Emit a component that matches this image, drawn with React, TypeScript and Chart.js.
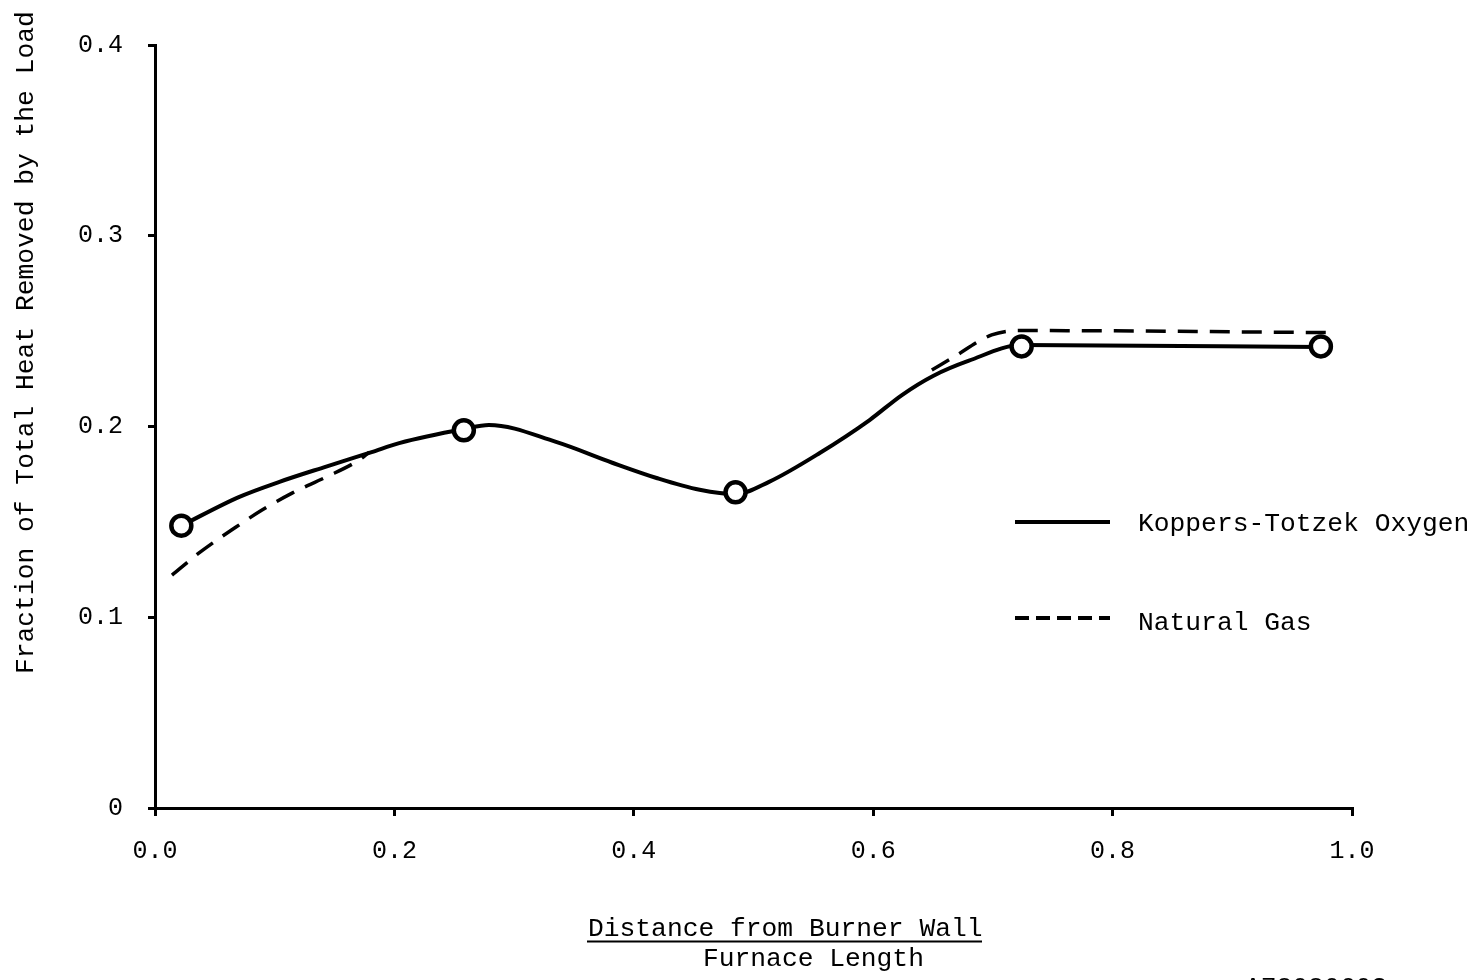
import React, { useEffect, useRef } from "react";
import { Chart, registerables } from "chart.js";

Chart.register(...registerables);

// ---- Data ----
const koppersX = [0.022, 0.07, 0.104, 0.143, 0.181, 0.204, 0.258, 0.279, 0.335, 0.382, 0.419, 0.455, 0.485, 0.513, 0.555, 0.597, 0.624, 0.65, 0.68, 0.724, 0.974];
const koppersY = [0.148, 0.163, 0.171, 0.179, 0.1866, 0.1913, 0.1987, 0.2008, 0.1919, 0.181, 0.173, 0.1668, 0.1645, 0.171, 0.186, 0.2034, 0.2165, 0.2265, 0.2345, 0.2427, 0.2417];

const naturalGasX = [0.0142, 0.0368, 0.0677, 0.0894, 0.1145, 0.143, 0.1704, 0.179, 0.4, 0.649, 0.666, 0.699, 0.722, 0.987];
const naturalGasY: (number | null)[] = [0.1221, 0.1337, 0.1473, 0.1562, 0.1651, 0.1735, 0.1824, 0.1866, null, 0.2296, 0.2359, 0.248, 0.2503, 0.2492];

const measuredX = [0.022, 0.258, 0.485, 0.724, 0.974];
const measuredY = [0.148, 0.198, 0.1655, 0.242, 0.242];

const xTickLabels = ["0.0", "0.2", "0.4", "0.6", "0.8", "1.0"];
const yTickLabels = ["0", "0.1", "0.2", "0.3", "0.4"];

const seriesNames = ["Koppers-Totzek Oxygen", "Natural Gas"];
const yTitle = "Fraction of Total Heat Removed by the Load";
const xTitleTop = "Distance from Burner Wall";
const xTitleBottom = "Furnace Length";
const figureId = "A78080603";

const FONT = "'Liberation Mono', 'DejaVu Sans Mono', monospace";

const toPts = (xs: number[], ys: (number | null)[]) => xs.map((x, i) => ({ x, y: ys[i] }));

const annotations = {
  id: "annotations",
  afterDraw(chart: any) {
    const ctx = chart.ctx as CanvasRenderingContext2D;
    const area = chart.chartArea;
    ctx.save();
    ctx.fillStyle = "#000";
    ctx.strokeStyle = "#000";
    ctx.font = `26.3px ${FONT}`;

    // Legend
    const lx0 = area.left + 860;
    const lx1 = area.left + 955;
    const tx = area.left + 983;
    ctx.lineWidth = 4;
    ctx.setLineDash([]);
    ctx.beginPath();
    ctx.moveTo(lx0, 522);
    ctx.lineTo(lx1, 522);
    ctx.stroke();
    ctx.setLineDash([14, 7]);
    ctx.beginPath();
    ctx.moveTo(lx0, 618);
    ctx.lineTo(lx1, 618);
    ctx.stroke();
    ctx.setLineDash([]);
    ctx.textBaseline = "alphabetic";
    ctx.textAlign = "left";
    ctx.fillText(seriesNames[0], tx, 531);
    ctx.fillText(seriesNames[1], tx, 630);

    // X title (fraction)
    ctx.fillText(xTitleTop, 588, 936);
    ctx.lineWidth = 2;
    ctx.beginPath();
    ctx.moveTo(587, 941.5);
    ctx.lineTo(982, 941.5);
    ctx.stroke();
    ctx.fillText(xTitleBottom, 703, 966);

    // figure id, cut off at the bottom edge
    ctx.fillText(figureId, 1245, 995);

    // Y title
    ctx.translate(33, 674);
    ctx.rotate(-Math.PI / 2);
    ctx.fillText(yTitle, 0, 0);
    ctx.restore();
  },
};

export default function App() {
  const ref = useRef<HTMLCanvasElement | null>(null);

  useEffect(() => {
    if (!ref.current) return;
    const chart = new Chart(ref.current, {
      type: "line",
      data: {
        datasets: [
          {
            label: seriesNames[0],
            data: toPts(koppersX, koppersY),
            borderColor: "#000",
            borderWidth: 4,
            pointRadius: 0,
            cubicInterpolationMode: "monotone",
            fill: false,
            order: 2,
          },
          {
            label: seriesNames[1],
            data: toPts(naturalGasX, naturalGasY),
            borderColor: "#000",
            borderWidth: 3.5,
            borderDash: [20, 12],
            pointRadius: 0,
            spanGaps: false,
            cubicInterpolationMode: "monotone",
            fill: false,
            order: 3,
          },
          {
            label: "measured",
            data: toPts(measuredX, measuredY),
            showLine: false,
            pointRadius: 10,
            pointBorderWidth: 4.5,
            pointBackgroundColor: "#fff",
            pointBorderColor: "#000",
            order: 1,
          },
        ],
      },
      options: {
        responsive: false,
        animation: false,
        layout: { padding: { left: 0, top: 45, right: 128, bottom: 0 } },
        plugins: { legend: { display: false }, tooltip: { enabled: false }, title: { display: false } },
        scales: {
          x: {
            type: "linear",
            min: 0,
            max: 1,
            afterFit: (s: any) => {
              s.height = 172;
            },
            afterBuildTicks: (s: any) => {
              s.ticks = xTickLabels.map((_, i) => ({ value: i * 0.2 }));
            },
            ticks: {
              callback: (_v: any, i: number) => xTickLabels[i],
              font: { family: FONT, size: 25 },
              color: "#000",
              padding: 20,
              maxRotation: 0,
            },
            grid: { display: true, drawOnChartArea: false, drawTicks: true, tickLength: 8, color: "#000", lineWidth: 3 },
            border: { display: true, color: "#000", width: 3 },
          },
          y: {
            type: "linear",
            min: 0,
            max: 0.4,
            afterFit: (s: any) => {
              s.width = 155;
            },
            afterBuildTicks: (s: any) => {
              s.ticks = yTickLabels.map((_, i) => ({ value: i * 0.1 }));
            },
            ticks: {
              callback: (_v: any, i: number) => yTickLabels[i],
              font: { family: FONT, size: 25 },
              color: "#000",
              padding: 25,
            },
            grid: { display: true, drawOnChartArea: false, drawTicks: true, tickLength: 7, color: "#000", lineWidth: 3 },
            border: { display: true, color: "#000", width: 3 },
          },
        },
      },
      plugins: [annotations],
    });
    return () => chart.destroy();
  }, []);

  return (
    <div style={{ position: "absolute", left: 0, top: 0, width: 1480, height: 980, background: "#fff" }}>
      <canvas ref={ref} width={1480} height={980} style={{ width: 1480, height: 980, display: "block" }} />
    </div>
  );
}
